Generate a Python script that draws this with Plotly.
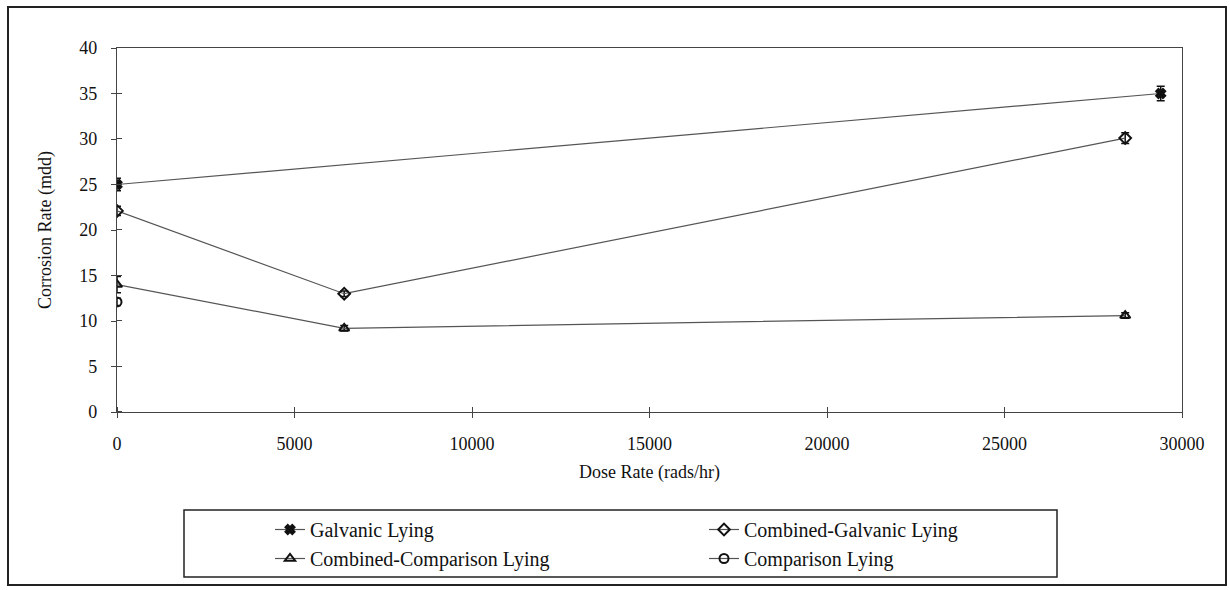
import plotly.graph_objects as go

# Dose rate (rads/hr) and corrosion rate (mdd) for each specimen arrangement
galv_dose = [0, 29400]
galv_rate = [25.0, 35.0]
galv_err = [0.7, 0.8]

comb_galv_dose = [0, 6400, 28400]
comb_galv_rate = [22.1, 13.0, 30.1]
comb_galv_err = [0.5, 0.3, 0.6]

comb_comp_dose = [0, 6400, 28400]
comb_comp_rate = [14.0, 9.2, 10.6]
comb_comp_err = [0.9, 0.3, 0.3]

comp_dose = [0]
comp_rate = [12.1]
comp_err = [0.4]

series_names = ["Galvanic Lying", "Combined-Galvanic Lying",
                "Combined-Comparison Lying", "Comparison Lying"]

FONT = "Liberation Serif"
LINE = "#444444"
INK = "#111111"

fig = go.Figure()


def add_series(x, y, err, name, symbol, size):
    fig.add_trace(go.Scatter(
        x=x, y=y, name=name, mode="lines+markers",
        line=dict(color="#555555", width=1.2),
        marker=dict(symbol=symbol, size=size, color=INK,
                    line=dict(color=INK, width=2)),
        error_y=dict(type="data", array=err, visible=True,
                     color=INK, thickness=1.5, width=4),
    ))


add_series(galv_dose, galv_rate, galv_err, series_names[0], "x", 8)
add_series(comb_galv_dose, comb_galv_rate, comb_galv_err, series_names[1], "diamond-open", 9)
add_series(comb_comp_dose, comb_comp_rate, comb_comp_err, series_names[2], "triangle-up-open", 9)
add_series(comp_dose, comp_rate, comp_err, series_names[3], "circle-open", 9)

# Plot-area geometry in pixels (used to place the frame and legend box)
W, H = 1230, 590
L, R, T, B = 117, 48, 48, 178
pw, ph = W - L - R, H - T - B


def px_x(p):
    return (p - L) / pw


def px_y(p):
    return (H - B - p) / ph


tick_font = dict(family=FONT, size=18, color=INK)
title_font = dict(family=FONT, size=18, color=INK)

fig.update_layout(
    width=W, height=H,
    margin=dict(l=L, r=R, t=T, b=B),
    paper_bgcolor="white", plot_bgcolor="white",
    font=dict(family=FONT, color=INK, size=18),
    showlegend=True,
    legend=dict(
        orientation="h", x=px_x(270), y=px_y(510), xanchor="left", yanchor="top",
        entrywidth=389, entrywidthmode="pixels",
        font=dict(family=FONT, size=20, color=INK),
        bgcolor="rgba(0,0,0,0)", borderwidth=0, tracegroupgap=0,
    ),
    # tick marks cross the axis line: major ticks point out, a minor set
    # (offset by a hair so it is not merged with the majors) points in
    xaxis=dict(
        range=[0, 30000], dtick=5000, tick0=0, tickformat="d",
        showgrid=False, zeroline=False,
        showline=True, linecolor=LINE, linewidth=1.2, mirror=True,
        ticks="outside", ticklen=5, tickwidth=1, tickcolor=LINE,
        ticklabelstandoff=10, tickfont=tick_font,
        minor=dict(ticks="inside", tick0=3, dtick=5000, ticklen=5,
                   tickwidth=1, tickcolor=LINE, showgrid=False),
        title=dict(text="Dose Rate (rads/hr)", font=title_font, standoff=12),
    ),
    yaxis=dict(
        range=[0, 40], dtick=5, tick0=0,
        showgrid=False, zeroline=False,
        showline=True, linecolor=LINE, linewidth=1.2, mirror=True,
        ticks="outside", ticklen=5, tickwidth=1, tickcolor=LINE,
        ticklabelstandoff=10, tickfont=tick_font,
        minor=dict(ticks="inside", tick0=0.005, dtick=5, ticklen=5,
                   tickwidth=1, tickcolor=LINE, showgrid=False),
        title=dict(text="Corrosion Rate (mdd)", font=title_font, standoff=22),
    ),
)

# outer chart border and legend box
fig.add_shape(type="rect", xref="paper", yref="paper",
              x0=px_x(8), x1=px_x(1226), y0=px_y(585), y1=px_y(7),
              line=dict(color="#222222", width=2), layer="below")
fig.add_shape(type="rect", xref="paper", yref="paper",
              x0=px_x(184), x1=px_x(1057), y0=px_y(577), y1=px_y(510),
              line=dict(color="#222222", width=1.5), layer="below")

fig.write_html("out.html")
